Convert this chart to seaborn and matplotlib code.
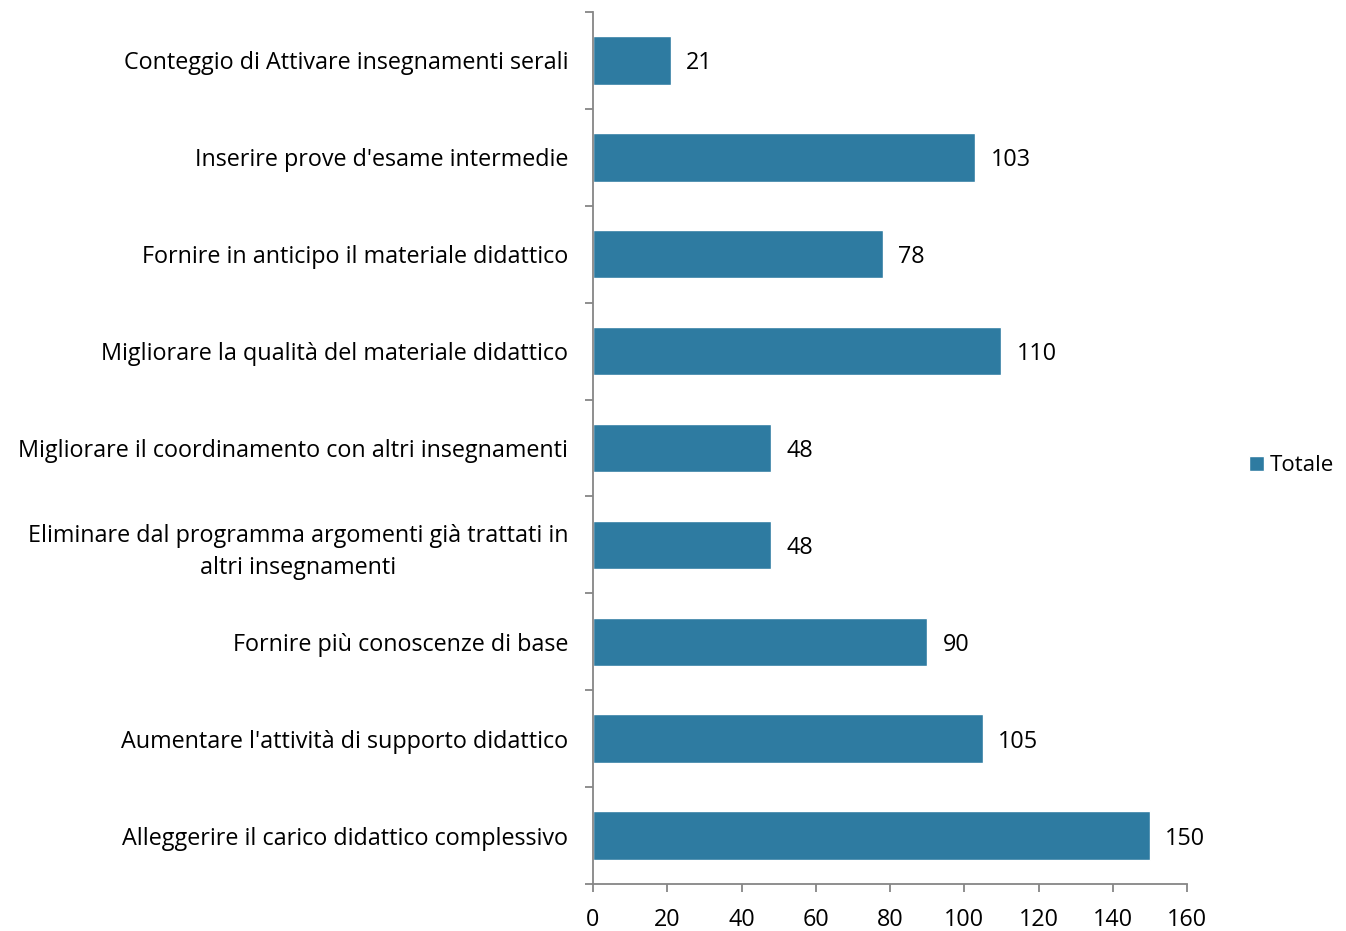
import pandas as pd
import seaborn as sns
import matplotlib
matplotlib.use('Agg')
import matplotlib.pyplot as plt
from matplotlib.ticker import FixedLocator

# dati del grafico (dall'alto verso il basso)
categorie = [
    "Conteggio di Attivare insegnamenti serali",
    "Inserire prove d'esame intermedie",
    "Fornire in anticipo il materiale didattico",
    "Migliorare la qualità del materiale didattico",
    "Migliorare il coordinamento con altri insegnamenti",
    "Eliminare dal programma argomenti già trattati in\naltri insegnamenti",
    "Fornire più conoscenze di base",
    "Aumentare l'attività di supporto didattico",
    "Alleggerire il carico didattico complessivo",
]
valori = [21, 103, 78, 110, 48, 48, 90, 105, 150]
serie = "Totale"
colore = "#2E7BA1"
grigio = "#868686"

df = pd.DataFrame({"Categoria": categorie, "Valore": valori, "Serie": serie})

sns.set_style("white")
plt.rcParams['font.family'] = ['Open Sans', 'DejaVu Sans']
plt.rcParams['text.color'] = 'black'
fs = 16.8

fig = plt.figure(figsize=(13.46, 9.31), dpi=100)
ax = fig.add_axes([0.4406, 0.0505, 0.4413, 0.9366])

sns.barplot(data=df, x="Valore", y="Categoria", hue="Serie", palette=[colore],
            width=0.5, orient="h", ax=ax, legend=True, saturation=1)

ax.set_xlim(0, 160)
ax.set_ylim(len(categorie) - 0.5, -0.5)
ax.set_xticks(range(0, 161, 20))
ax.set_xlabel("")
ax.set_ylabel("")

# etichette dei valori
for cont in ax.containers:
    etichette = ax.bar_label(cont, padding=11, fontsize=fs, color="black")
    for e in etichette:
        e.set_va("center_baseline")

# assi
for lato in ["top", "right"]:
    ax.spines[lato].set_visible(False)
for lato in ["left", "bottom"]:
    ax.spines[lato].set_color(grigio)
    ax.spines[lato].set_linewidth(1.3)

ax.tick_params(axis="x", bottom=True, direction="out", length=6, width=1.3, color=grigio,
               labelsize=fs, labelcolor="black", pad=11)
ax.tick_params(axis="y", which="major", left=False, length=0, labelsize=fs,
               labelcolor="black", pad=18)
ax.yaxis.set_minor_locator(FixedLocator([i - 0.5 for i in range(len(categorie) + 1)]))
ax.tick_params(axis="y", which="minor", left=True, direction="out", length=6, width=1.3,
               color=grigio)
for t in ax.get_yticklabels():
    t.set_multialignment("center")
    t.set_linespacing(1.45)

# legenda
ax.legend(loc="center left", bbox_to_anchor=(0.928, 0.5), bbox_transform=fig.transFigure,
          frameon=False, fontsize=16, handlelength=0.65, handleheight=0.65,
          handletextpad=0.3, borderpad=0, borderaxespad=0)

fig.savefig("out.png", dpi=100)
